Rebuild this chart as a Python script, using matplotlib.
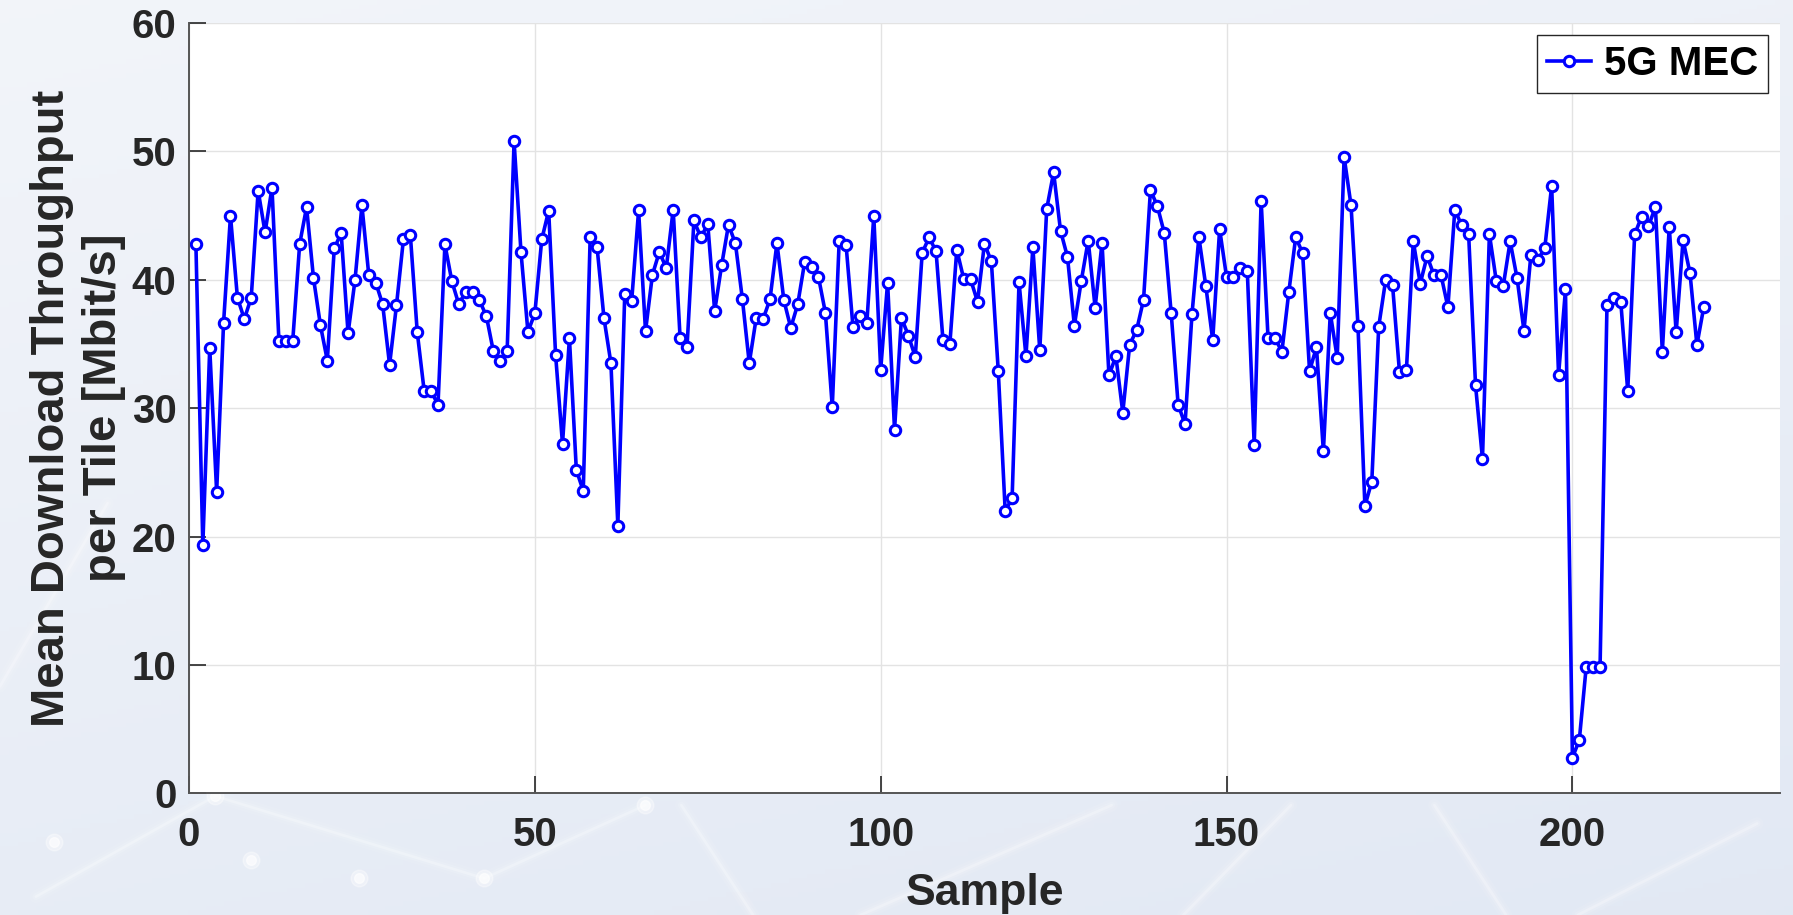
import numpy as np
import matplotlib
matplotlib.use("Agg")
import matplotlib.pyplot as plt

plt.rcParams['font.family'] = ['Liberation Sans', 'DejaVu Sans']
plt.rcParams['font.weight'] = 'bold'

# mean download throughput per tile, one value per sample
throughput = [
    42.78, 19.35, 34.68, 23.48, 36.65, 44.99, 38.62, 36.94, 38.62, 46.94,
    43.69, 47.17, 35.25, 35.25, 35.25, 42.78, 45.66, 40.13, 36.47, 33.71,
    42.44, 43.64, 35.84, 39.97, 45.79, 40.34, 39.79, 38.08, 33.38, 38.03,
    43.14, 43.51, 35.92, 31.35, 31.35, 30.26, 42.75, 39.90, 38.10, 39.06,
    39.06, 38.40, 37.16, 34.44, 33.71, 34.49, 50.78, 42.13, 35.95, 37.38,
    43.14, 45.38, 34.16, 27.22, 35.45, 25.19, 23.56, 43.32, 42.52, 36.99,
    33.51, 20.86, 38.91, 38.36, 45.40, 36.00, 40.39, 42.18, 40.91, 45.45,
    35.48, 34.73, 44.62, 43.30, 44.34, 37.56, 41.12, 44.29, 42.83, 38.52,
    33.51, 37.01, 36.94, 38.49, 42.86, 38.42, 36.26, 38.08, 41.35, 40.96,
    40.23, 37.45, 30.10, 43.01, 42.68, 36.29, 37.19, 36.65, 44.99, 33.01,
    39.79, 28.31, 37.04, 35.66, 34.00, 42.10, 43.30, 42.23, 35.32, 35.01,
    42.34, 40.08, 40.03, 38.29, 42.81, 41.43, 32.88, 22.00, 22.99, 39.82,
    34.05, 42.52, 34.52, 45.51, 48.36, 43.82, 41.79, 36.44, 39.92, 43.06,
    37.84, 42.88, 32.55, 34.05, 29.66, 34.96, 36.08, 38.44, 46.99, 45.74,
    43.64, 37.38, 30.29, 28.75, 37.30, 43.32, 39.53, 35.30, 43.95, 40.23,
    40.21, 40.91, 40.70, 27.12, 46.16, 35.48, 35.48, 34.39, 39.04, 43.32,
    42.08, 32.91, 34.75, 26.65, 37.40, 33.92, 49.56, 45.79, 36.44, 22.39,
    24.29, 36.36, 39.97, 39.58, 32.83, 32.94, 42.99, 39.71, 41.84, 40.34,
    40.39, 37.87, 45.43, 44.26, 43.53, 31.77, 26.05, 43.56, 39.90, 39.51,
    42.99, 40.13, 36.03, 41.95, 41.56, 42.44, 47.30, 32.60, 39.25, 2.78,
    4.17, 9.88, 9.88, 9.88, 38.03, 38.58, 38.25, 31.35, 43.53, 44.92,
    44.17, 45.67, 34.40, 44.13, 35.91, 43.10, 40.52, 34.92, 37.90,
]
samples = np.arange(1, len(throughput) + 1)

series_label = "5G MEC"
x_label = "Sample"
y_label = "Mean Download Throughput\nper Tile [Mbit/s]"
x_ticks = [0, 50, 100, 150, 200]
y_ticks = [0, 10, 20, 30, 40, 50, 60]

fig = plt.figure(figsize=(17.93, 9.15), dpi=100)

# pale blue backdrop behind the axes
bg = fig.add_axes([0, 0, 1, 1], zorder=-10)
gy, gx = np.mgrid[0:1:200j, 0:1:200j]
shade = 0.55 * gy + 0.25 * gx
top_col = np.array([0.95, 0.96, 0.98])
bot_col = np.array([0.87, 0.90, 0.95])
img = top_col[None, None, :] * (1 - shade[..., None]) + bot_col[None, None, :] * shade[..., None]
bg.imshow(img, extent=[0, 1, 0, 1], aspect='auto', origin='upper')
streaks = [(0.02, 0.02, 0.12, 0.13), (0.12, 0.13, 0.27, 0.04), (0.27, 0.04, 0.36, 0.12),
           (0.48, 0.0, 0.62, 0.12), (0.42, 0.0, 0.38, 0.12), (0.84, 0.0, 0.80, 0.12),
           (0.88, 0.0, 0.98, 0.10), (0.0, 0.25, 0.06, 0.45), (0.66, 0.0, 0.72, 0.12)]
for x0, y0, x1, y1 in streaks:
    for w, a in [(9, 0.08), (5, 0.12), (2, 0.25)]:
        bg.plot([x0, x1], [y0, y1], color='white', lw=w, alpha=a, solid_capstyle='round')
for px, py in [(0.12, 0.13), (0.14, 0.06), (0.20, 0.04), (0.27, 0.04), (0.36, 0.12), (0.03, 0.08)]:
    bg.plot(px, py, 'o', color='white', ms=12, alpha=0.35)
    bg.plot(px, py, 'o', color='white', ms=7, alpha=0.6)
bg.set_xlim(0, 1)
bg.set_ylim(0, 1)
bg.axis('off')

ax = fig.add_axes([0.1054, 0.1328, 0.8873, 0.8421])
ax.set_facecolor('white')
ax.plot(samples, throughput, color=(0, 0, 1), lw=2.6, marker='o', ms=7.5,
        mfc='white', mec=(0, 0, 1), mew=2.2, label=series_label)

ax.set_xlim(0, 230)
ax.set_ylim(0, 60)
ax.set_xticks(x_ticks)
ax.set_yticks(y_ticks)
ax.grid(True, color='#e3e3e3', lw=1.0)
ax.set_axisbelow(True)

for side in ['top', 'right']:
    ax.spines[side].set_visible(False)
for side in ['left', 'bottom']:
    ax.spines[side].set_color('#555555')
    ax.spines[side].set_linewidth(1.4)

ax.tick_params(axis='both', direction='in', length=12, width=1.2, color='#262626',
               labelsize=29, labelcolor='#262626')
ax.tick_params(axis='x', pad=16)
ax.tick_params(axis='y', pad=9)
for lbl in ax.get_xticklabels() + ax.get_yticklabels():
    lbl.set_fontweight('bold')

ax.set_xlabel(x_label, fontsize=32, fontweight='bold', color='#262626', labelpad=14)
ax.set_ylabel(y_label, fontsize=34, fontweight='bold', color='#262626', labelpad=4,
              linespacing=1.25)

leg = ax.legend(loc='upper right', handlelength=1.1, handletextpad=0.3,
                borderpad=0.25, borderaxespad=0.3, fancybox=False, framealpha=1,
                edgecolor='#262626', prop={'weight': 'bold', 'size': 29})
leg.get_frame().set_linewidth(1.0)

fig.savefig("out.png", dpi=100)
